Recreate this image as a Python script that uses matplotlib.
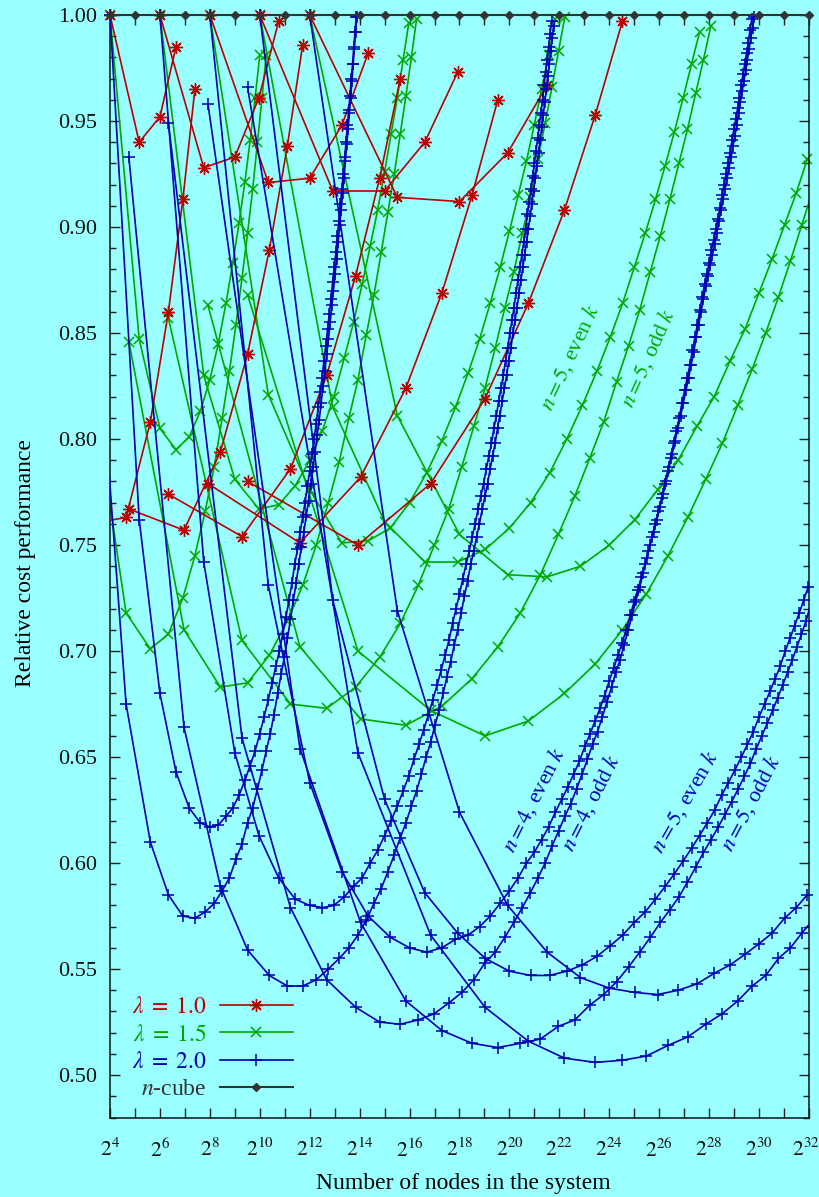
import numpy as np
import matplotlib
matplotlib.use('Agg')
import matplotlib.pyplot as plt
import matplotlib.transforms as mtransforms
from matplotlib.ticker import FixedLocator, MultipleLocator, NullFormatter, FormatStrFormatter
from matplotlib.lines import Line2D

# ---------------- data (relative cost performance vs. k, for k-ary n-cubes) -------------
# even k series start at k = 4, odd k series start at k = 3 (k steps of 2)
red_n2_even = [1.000, 0.940, 0.952, 0.985]
red_n2_odd = [0.760, 0.763, 0.808, 0.860, 0.913, 0.965]
red_n3_even = [1.000, 0.928, 0.933, 0.961, 0.997]
red_n3_odd = [0.767, 0.757, 0.794, 0.840, 0.889, 0.938, 0.986]
red_n4_even = [1.000, 0.921, 0.923, 0.948, 0.982]
red_n4_odd = [0.774, 0.754, 0.786, 0.830, 0.877, 0.923, 0.970]
red_n5_even = [1.000, 0.917, 0.917, 0.940, 0.973]
red_n5_odd = [0.779, 0.751, 0.782, 0.824, 0.869, 0.915, 0.960]
red_n6_even = [1.000, 0.914, 0.912, 0.935, 0.967]
red_n6_odd = [0.780, 0.750, 0.779, 0.819, 0.864, 0.908, 0.953, 0.997]

green_n2_even = [1.000, 0.847, 0.805, 0.795, 0.801, 0.813, 0.828, 0.845, 0.864, 0.883,
                 0.902, 0.921, 0.941, 0.961, 0.981]
green_n2_odd = [0.835, 0.718, 0.701, 0.708, 0.725, 0.745, 0.766, 0.787, 0.810, 0.832,
                0.854, 0.876, 0.897, 0.918, 0.940, 0.961, 0.981]
green_n3_even = [1.000, 0.830, 0.781, 0.767, 0.769, 0.778, 0.790, 0.804, 0.820, 0.838,
                 0.855, 0.873, 0.891, 0.908, 0.926, 0.944, 0.961, 0.979, 0.996]
green_n3_odd = [0.846, 0.710, 0.683, 0.685, 0.698, 0.714, 0.731, 0.750, 0.770, 0.789,
                0.810, 0.828, 0.849, 0.868, 0.888, 0.907, 0.925, 0.944, 0.962, 0.980, 0.998]
green_n4_even = [1.000, 0.821, 0.776, 0.751, 0.752, 0.758, 0.770, 0.784, 0.799, 0.815,
                 0.831, 0.847, 0.864, 0.881, 0.898, 0.915, 0.931, 0.948, 0.965, 0.981, 0.998]
green_n4_odd = [0.857, 0.705, 0.675, 0.673, 0.683, 0.697, 0.713, 0.731, 0.750, 0.767,
                0.787, 0.806, 0.824, 0.843, 0.862, 0.879, 0.897, 0.914, 0.932, 0.949,
                0.966, 0.983, 0.999]
green_n5_even = [1.000, 0.815, 0.761, 0.742, 0.742, 0.748, 0.758, 0.770, 0.784, 0.800,
                 0.816, 0.832, 0.848, 0.864, 0.881, 0.897, 0.913, 0.929, 0.945, 0.961,
                 0.977, 0.992]
green_n5_odd = [0.863, 0.702, 0.668, 0.665, 0.674, 0.687, 0.702, 0.718, 0.736, 0.755,
                0.773, 0.791, 0.808, 0.827, 0.844, 0.861, 0.879, 0.896, 0.913, 0.930,
                0.946, 0.963, 0.979, 0.995]
green_n6_even = [1.000, 0.811, 0.755, 0.736, 0.735, 0.740, 0.750, 0.762, 0.776, 0.790,
                 0.806, 0.820, 0.837, 0.852, 0.869, 0.885, 0.901, 0.916, 0.932]
green_n6_odd = [0.868, 0.700, 0.672, 0.660, 0.667, 0.680, 0.694, 0.710, 0.727, 0.745,
                0.763, 0.781, 0.798, 0.816, 0.833, 0.850, 0.867, 0.884, 0.901, 0.917]

blue_n2_even = [1.000, 0.762, 0.680, 0.643, 0.626, 0.619, 0.617, 0.618, 0.622, 0.626,
                0.632, 0.639, 0.646, 0.653, 0.661, 0.669, 0.677, 0.685, 0.693, 0.700,
                0.708, 0.716, 0.724, 0.732, 0.741, 0.748, 0.756, 0.763, 0.770, 0.778,
                0.785, 0.793, 0.800, 0.807, 0.815, 0.822, 0.829, 0.837, 0.844, 0.852,
                0.859, 0.866, 0.874, 0.881, 0.888, 0.896, 0.903, 0.911, 0.918, 0.925,
                0.933, 0.940, 0.948, 0.955, 0.962, 0.970, 0.977, 0.985, 0.992, 0.999]
blue_n2_odd = [0.911, 0.675, 0.610, 0.585, 0.575, 0.574, 0.577, 0.581, 0.587, 0.593,
               0.602, 0.609, 0.619, 0.626, 0.635, 0.644, 0.653, 0.661, 0.670, 0.680,
               0.689, 0.697, 0.706, 0.715, 0.724, 0.732, 0.741, 0.749, 0.756, 0.764,
               0.771, 0.779, 0.787, 0.794, 0.802, 0.809, 0.817, 0.825, 0.832, 0.840,
               0.847, 0.855, 0.863, 0.870, 0.878, 0.885, 0.893, 0.901, 0.908, 0.916,
               0.923, 0.931, 0.939, 0.946, 0.954, 0.961, 0.969, 0.977, 0.984, 0.992, 0.999]
blue_n3_even = [1.000, 0.742, 0.652, 0.613, 0.593, 0.583, 0.580, 0.579, 0.580, 0.584,
                0.589, 0.593, 0.600, 0.606, 0.613, 0.620, 0.627, 0.634, 0.641, 0.649,
                0.656, 0.663, 0.670, 0.677, 0.684, 0.691, 0.698, 0.705, 0.713, 0.720,
                0.727, 0.734, 0.741, 0.747, 0.754, 0.760, 0.767, 0.773, 0.779, 0.786,
                0.792, 0.798, 0.805, 0.811, 0.818, 0.824, 0.830, 0.837, 0.843, 0.850,
                0.856, 0.862, 0.869, 0.875, 0.881, 0.887, 0.893, 0.899, 0.906, 0.912,
                0.918, 0.924, 0.930, 0.936, 0.942, 0.948, 0.954, 0.960, 0.967, 0.973,
                0.979, 0.985, 0.991, 0.997]
blue_n3_odd = [0.933, 0.664, 0.589, 0.559, 0.547, 0.542, 0.542, 0.545, 0.550, 0.555,
               0.560, 0.566, 0.573, 0.581, 0.588, 0.596, 0.604, 0.612, 0.619, 0.627,
               0.634, 0.642, 0.650, 0.657, 0.665, 0.672, 0.680, 0.688, 0.695, 0.703,
               0.710, 0.718, 0.726, 0.733, 0.741, 0.747, 0.754, 0.760, 0.767, 0.773,
               0.779, 0.786, 0.792, 0.798, 0.805, 0.811, 0.818, 0.824, 0.830, 0.837,
               0.843, 0.850, 0.856, 0.862, 0.869, 0.875, 0.881, 0.887, 0.893, 0.899,
               0.905, 0.911, 0.917, 0.923, 0.929, 0.935, 0.941, 0.947, 0.953, 0.959,
               0.965, 0.971, 0.977, 0.983, 0.989, 0.995]
blue_n4_even = [1.000, 0.731, 0.638, 0.596, 0.575, 0.565, 0.560, 0.558, 0.560, 0.564,
                0.566, 0.570, 0.575, 0.581, 0.587, 0.593, 0.600, 0.605, 0.611, 0.617,
                0.624, 0.630, 0.636, 0.642, 0.648, 0.655, 0.661, 0.667, 0.673, 0.679,
                0.686, 0.692, 0.698, 0.704, 0.710, 0.717, 0.723, 0.729, 0.735, 0.741,
                0.747, 0.754, 0.760, 0.766, 0.772, 0.779, 0.785, 0.791, 0.798, 0.804,
                0.810, 0.817, 0.823, 0.829, 0.835, 0.842, 0.848, 0.854, 0.861, 0.867,
                0.873, 0.878, 0.883, 0.889, 0.894, 0.899, 0.904, 0.909, 0.915, 0.920,
                0.925, 0.930, 0.935, 0.941, 0.946, 0.951, 0.956, 0.961, 0.967, 0.972,
                0.977, 0.982, 0.987, 0.993, 0.998]
blue_n4_odd = [0.949, 0.659, 0.579, 0.545, 0.532, 0.525, 0.524, 0.526, 0.529, 0.534,
               0.539, 0.545, 0.553, 0.558, 0.565, 0.572, 0.579, 0.586, 0.593, 0.600,
               0.608, 0.615, 0.622, 0.628, 0.635, 0.642, 0.649, 0.656, 0.662, 0.669,
               0.676, 0.683, 0.690, 0.696, 0.703, 0.710, 0.717, 0.724, 0.730, 0.737,
               0.744, 0.750, 0.756, 0.762, 0.768, 0.774, 0.780, 0.787, 0.793, 0.799,
               0.805, 0.811, 0.817, 0.823, 0.829, 0.835, 0.841, 0.848, 0.854, 0.860,
               0.866, 0.872, 0.877, 0.882, 0.887, 0.892, 0.897, 0.903, 0.908, 0.913,
               0.918, 0.923, 0.928, 0.933, 0.938, 0.943, 0.948, 0.954, 0.959, 0.964,
               0.969, 0.974, 0.979, 0.984, 0.989, 0.994, 0.999]
blue_n5_even = [1.000, 0.724, 0.630, 0.586, 0.567, 0.555, 0.549, 0.547, 0.547, 0.549,
                0.552, 0.556, 0.561, 0.566, 0.572, 0.577, 0.583, 0.589, 0.595, 0.601,
                0.607, 0.613, 0.619, 0.625, 0.632, 0.638, 0.644, 0.650, 0.656, 0.662,
                0.669, 0.675, 0.681, 0.687, 0.693, 0.700, 0.706, 0.712, 0.718, 0.724,
                0.730, 0.737]
blue_n5_odd = [0.958, 0.654, 0.572, 0.535, 0.521, 0.515, 0.513, 0.515, 0.517, 0.523,
               0.526, 0.533, 0.538, 0.544, 0.551, 0.558, 0.565, 0.572, 0.578, 0.584,
               0.591, 0.598, 0.605, 0.611, 0.617, 0.623, 0.629, 0.635, 0.641, 0.647,
               0.654, 0.660, 0.666, 0.672, 0.678, 0.684, 0.690, 0.696, 0.702, 0.708,
               0.714, 0.721]
blue_n6_even = [1.000, 0.719, 0.624, 0.580, 0.558, 0.546, 0.541, 0.539, 0.538, 0.540,
                0.543, 0.548, 0.552, 0.557, 0.562, 0.567, 0.574, 0.579, 0.585]
blue_n6_odd = [0.966, 0.652, 0.566, 0.532, 0.516, 0.508, 0.506, 0.507, 0.509, 0.514,
               0.518, 0.524, 0.529, 0.535, 0.542, 0.547, 0.555, 0.560, 0.567, 0.573]

cube_exponents = list(range(4, 33))
cube_values = [1.0] * len(cube_exponents)

x_tick_exponents = list(range(4, 33, 2))
legend_labels = [r'$\lambda\;=\;1.0$', r'$\lambda\;=\;1.5$', r'$\lambda\;=\;2.0$', r'$n$-cube']

# ---------------- style ----------------
BG = '#99ffff'
RED = '#bb0000'
GREEN = '#00a800'
BLUE = '#0000b0'
GRAY = '#333333'

plt.rcParams['font.family'] = ['Liberation Serif', 'DejaVu Serif']
plt.rcParams['mathtext.fontset'] = 'stix'
plt.rcParams['font.size'] = 16

fig = plt.figure(figsize=(8.2, 11.97), dpi=100, facecolor=BG)
ax = fig.add_axes([110 / 820, 1 - 1117.5 / 1197, 699 / 820, 1102.5 / 1197])
ax.set_facecolor(BG)
ax.set_xscale('log', base=2)
ax.set_xlim(2 ** 4, 2 ** 32)
ax.set_ylim(0.48, 1.0)

LOW, HIGH = 2 ** 4, 2 ** 32


def draw(vals, k0, n, color, marker, ms, mew, z):
    k = np.arange(k0, k0 + 2 * len(vals), 2, dtype=float)
    N = k ** n
    v = np.asarray(vals, dtype=float)
    ax.plot(N, v, color=color, lw=1.2, zorder=z)
    inside = (N >= LOW * 0.999) & (N <= HIGH * 1.001)
    ax.plot(N[inside], v[inside], ls='none', marker=marker, ms=ms, mew=mew,
            color=color, zorder=z + 0.5, clip_on=False)


STAR = (8, 2, 0)
green_sets = [(green_n2_even, 4, 2), (green_n2_odd, 3, 2), (green_n3_even, 4, 3), (green_n3_odd, 3, 3),
              (green_n4_even, 4, 4), (green_n4_odd, 3, 4), (green_n5_even, 4, 5), (green_n5_odd, 3, 5),
              (green_n6_even, 4, 6), (green_n6_odd, 3, 6)]
red_sets = [(red_n2_even, 4, 2), (red_n2_odd, 3, 2), (red_n3_even, 4, 3), (red_n3_odd, 3, 3),
            (red_n4_even, 4, 4), (red_n4_odd, 3, 4), (red_n5_even, 4, 5), (red_n5_odd, 3, 5),
            (red_n6_even, 4, 6), (red_n6_odd, 3, 6)]
blue_sets = [(blue_n2_even, 4, 2), (blue_n2_odd, 3, 2), (blue_n3_even, 4, 3), (blue_n3_odd, 3, 3),
             (blue_n4_even, 4, 4), (blue_n4_odd, 3, 4), (blue_n5_even, 4, 5), (blue_n5_odd, 3, 5),
             (blue_n6_even, 4, 6), (blue_n6_odd, 3, 6)]

for vals, k0, n in green_sets:
    draw(vals, k0, n, GREEN, 'x', 7, 1.1, 2)
for vals, k0, n in red_sets:
    draw(vals, k0, n, RED, STAR, 9, 1.0, 3)
for vals, k0, n in blue_sets:
    draw(vals, k0, n, BLUE, '+', 8, 1.1, 4)

cube_N = [2.0 ** e for e in cube_exponents]
ax.plot(cube_N, cube_values, color=GRAY, lw=1.5, marker='D', ms=4.5, zorder=6, clip_on=False)

# ---------------- axes / ticks ----------------
ax.xaxis.set_major_locator(FixedLocator([2.0 ** e for e in x_tick_exponents]))
ax.set_xticklabels([r'$2^{%d}$' % e for e in x_tick_exponents])
ax.xaxis.set_minor_locator(FixedLocator([2.0 ** e for e in range(5, 32, 2)]))
ax.xaxis.set_minor_formatter(NullFormatter())
ax.yaxis.set_major_locator(MultipleLocator(0.05))
ax.yaxis.set_minor_locator(MultipleLocator(0.01))
ax.yaxis.set_major_formatter(FormatStrFormatter('%.2f'))
ax.tick_params(which='both', direction='in', top=True, right=True, colors='#222222',
               labelcolor='#111111', width=1.0)
ax.tick_params(axis='x', which='both', length=7, pad=15, labelsize=15.5)
ax.tick_params(axis='y', which='major', length=7, pad=9, labelsize=16)
ax.tick_params(axis='y', which='minor', length=4)
for sp in ax.spines.values():
    sp.set_linewidth(1.1)
    sp.set_color('#111111')

# nudge the last x tick label so it stays inside the picture
last_lab = ax.get_xticklabels()[-1]
last_lab.set_transform(last_lab.get_transform() +
                       mtransforms.ScaledTranslation(-3 / 100, 0, fig.dpi_scale_trans))

fig.text(26 / 820, 1 - 563 / 1197, 'Relative cost performance', rotation=90,
         ha='center', va='center', fontsize=17)
fig.text(463 / 820, 1 - 1183 / 1197, 'Number of nodes in the system',
         ha='center', va='center', fontsize=17)

# ---------------- curve annotations ----------------
def px_to_data(px, py):
    return 2.0 ** (4 + (px - 110) / 25.0), 1 - (py - 15) / 2120.0


for txt, px, py, rot, col in [
        (r'$n = 5$, even $k$', 571, 357, 65, GREEN),
        (r'$n = 5$, odd $k$', 649, 358, 66, GREEN),
        (r'$n = 4$, even $k$', 534, 800, 63, BLUE),
        (r'$n = 4$, odd $k$', 592, 802, 63, BLUE),
        (r'$n = 5$, even $k$', 686, 801, 60, BLUE),
        (r'$n = 5$, odd $k$', 752, 803, 62, BLUE)]:
    xd, yd = px_to_data(px, py)
    ax.text(xd, yd, txt, rotation=rot, color=col, ha='center', va='center',
            fontsize=16, rotation_mode='anchor', zorder=8)

# ---------------- legend ----------------
handles = [Line2D([], [], color=RED, marker=STAR, ms=9, lw=1.2),
           Line2D([], [], color=GREEN, marker='x', ms=7, mew=1.1, lw=1.2),
           Line2D([], [], color=BLUE, marker='+', ms=8, mew=1.1, lw=1.2),
           Line2D([], [], color=GRAY, marker='D', ms=4.5, lw=1.5)]
leg = ax.legend(handles, legend_labels, loc='lower right', markerfirst=False,
                bbox_to_anchor=(293 / 820, 1 - 1100 / 1197), bbox_transform=fig.transFigure,
                frameon=False, fontsize=17, handlelength=3.1, handletextpad=0.55,
                labelspacing=0.24, borderpad=0, borderaxespad=0)
for t, c in zip(leg.get_texts(), [RED, GREEN, BLUE, GRAY]):
    t.set_color(c)

fig.savefig('out.png', dpi=100, facecolor=BG)
